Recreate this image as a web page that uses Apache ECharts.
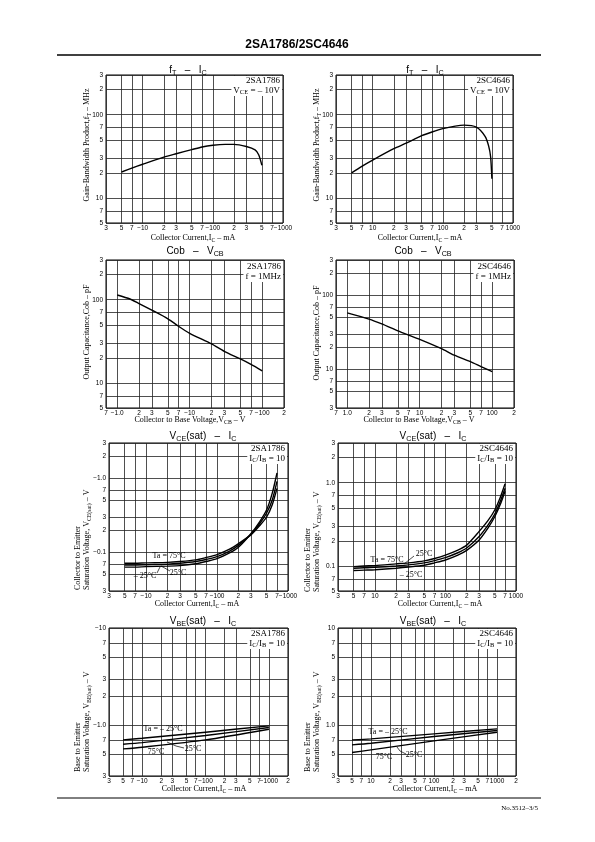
<!DOCTYPE html>
<html><head><meta charset="utf-8"><title>2SA1786/2SC4646</title>
<script src="https://cdn.jsdelivr.net/npm/echarts@6.0.0/dist/echarts.min.js"></script>
<style>html,body{margin:0;padding:0;background:#fff;}#chart{width:595px;height:842px;}</style>
</head><body><div id="chart"></div>
<script>
// ===== Tick values and tick labels =====
const icTicks = [3,5,7,10,20,30,50,70,100,200,300,500,700,1000];
const icLabelsA = ['3','5','7','−10','2','3','5','7','−100','2','3','5','7','−1000'];
const icLabelsC = ['3','5','7','10','2','3','5','7','100','2','3','5','7','1000'];
const icTicksWide = [3,5,7,10,20,30,50,70,100,200,300,500,700,1000,2000];
const icWideLabelsA = ['3','5','7','−10','2','3','5','7','−100','2','3','5','7','−1000','2'];
const icWideLabelsC = ['3','5','7','10','2','3','5','7','100','2','3','5','7','1000','2'];
const ftTicks = [5,7,10,20,30,50,70,100,200,300];
const ftLabels = ['5','7','10','2','3','5','7','100','2','3'];
const vcbTicks = [0.7,1,2,3,5,7,10,20,30,50,70,100,200];
const vcbLabelsA = ['7','−1.0','2','3','5','7','−10','2','3','5','7','−100','2'];
const vcbLabelsC = ['7','1.0','2','3','5','7','10','2','3','5','7','100','2'];
const cobTicksC = [3,5,7,10,20,30,50,70,100,200,300];
const cobLabelsC = ['3','5','7','10','2','3','5','7','100','2','3'];
const vceTicksA = [0.03,0.05,0.07,0.1,0.2,0.3,0.5,0.7,1,2,3];
const vceLabelsA = ['3','5','7','−0.1','2','3','5','7','−1.0','2','3'];
const vceTicksC = [0.05,0.07,0.1,0.2,0.3,0.5,0.7,1,2,3];
const vceLabelsC = ['5','7','0.1','2','3','5','7','1.0','2','3'];
const vbeTicks = [0.3,0.5,0.7,1,2,3,5,7,10];
const vbeLabelsA = ['3','5','7','−1.0','2','3','5','7','−10'];
const vbeLabelsC = ['3','5','7','1.0','2','3','5','7','10'];

// ===== Series data (magnitudes) =====
// fT - IC
const ftIcA = [5,7,10,20,30,50,70,100,150,200,300,400,450,500];
const ftA   = [20.5,22.8,25.4,31,34,38,41,43,44,44,41.5,37.8,33,24.7];
const ftIcC = [5,7,10,20,30,50,70,100,150,200,300,400,450,480,500];
const ftC   = [20,24,28.5,39,45.5,56,62,68,73,75,71,55,42,31,17];
// Cob - VCB
const cobVA = [1,1.5,2,3,5,7,10,20,30,50,70,100];
const cobA  = [114,102,90,75,59,48,39.5,29.5,24,19.4,16.7,14];
const cobVC = [1,2,3,5,7,10,20,30,50,70,100];
const cobC  = [58,47.7,41,33,29,25.4,19,15.5,12.7,10.9,9.3];
// VCE(sat) - IC
const vceIc    = [5,7,10,20,30,50,70,100,150,200,300,400,500,600,700];
const vceA_75  = [0.071,0.071,0.072,0.073,0.075,0.079,0.085,0.093,0.110,0.131,0.172,0.230,0.300,0.440,0.730];
const vceA_25  = [0.0675,0.0675,0.068,0.069,0.071,0.075,0.080,0.0875,0.104,0.124,0.175,0.245,0.340,0.510,0.910];
const vceA_m25 = [0.063,0.063,0.064,0.065,0.066,0.070,0.075,0.082,0.098,0.117,0.178,0.260,0.375,0.630,1.180];
const vceC_75  = [0.098,0.100,0.101,0.106,0.109,0.115,0.123,0.135,0.155,0.178,0.260,0.350,0.470,0.670,0.970];
const vceC_25  = [0.094,0.095,0.096,0.100,0.103,0.109,0.116,0.126,0.144,0.164,0.226,0.310,0.420,0.600,0.860];
const vceC_m25 = [0.088,0.089,0.090,0.094,0.097,0.102,0.109,0.118,0.135,0.154,0.205,0.285,0.390,0.550,0.790];
// VBE(sat) - IC
const vbeIc    = [5,10,100,1000];
const vbeA_m25 = [0.706,0.734,0.847,0.984];
const vbeA_25  = [0.637,0.662,0.782,0.946];
const vbeA_75  = [0.570,0.593,0.706,0.909];
const vbeC_m25 = [0.706,0.723,0.814,0.917];
const vbeC_25  = [0.627,0.652,0.764,0.881];
const vbeC_75  = [0.523,0.557,0.689,0.847];

// ===== Layout =====
const SERIF = '"Liberation Serif", "DejaVu Serif", serif';
const SANS = '"Liberation Sans", Arial, sans-serif';
const panels = [
  {box:[106,75,177,148], xT:icTicks, xL:icLabelsA, yT:ftTicks, yL:ftLabels, curves:[[ftIcA,ftA]]},
  {box:[336,75,177,148], xT:icTicks, xL:icLabelsC, yT:ftTicks, yL:ftLabels, curves:[[ftIcC,ftC]]},
  {box:[106,260,178,148], xT:vcbTicks, xL:vcbLabelsA, yT:ftTicks, yL:ftLabels, curves:[[cobVA,cobA]]},
  {box:[336,260,178,148], xT:vcbTicks, xL:vcbLabelsC, yT:cobTicksC, yL:cobLabelsC, curves:[[cobVC,cobC]]},
  {box:[109,443,179,148], xT:icTicks, xL:icLabelsA, yT:vceTicksA, yL:vceLabelsA, curves:[[vceIc,vceA_75],[vceIc,vceA_25],[vceIc,vceA_m25]]},
  {box:[338,443,178,148], xT:icTicks, xL:icLabelsC, yT:vceTicksC, yL:vceLabelsC, curves:[[vceIc,vceC_75],[vceIc,vceC_25],[vceIc,vceC_m25]]},
  {box:[109,628,179,148], xT:icTicksWide, xL:icWideLabelsA, yT:vbeTicks, yL:vbeLabelsA, curves:[[vbeIc,vbeA_m25],[vbeIc,vbeA_25],[vbeIc,vbeA_75]]},
  {box:[338,628,178,148], xT:icTicksWide, xL:icWideLabelsC, yT:vbeTicks, yL:vbeLabelsC, curves:[[vbeIc,vbeC_m25],[vbeIc,vbeC_25],[vbeIc,vbeC_75]]}
];

function labelFmt(vals, labels) {
  return function (v) {
    for (let k = 0; k < vals.length; k++) {
      if (Math.abs(Math.log10(v) - Math.log10(vals[k])) < 1e-6) return labels[k];
    }
    return '';
  };
}

const grids = [], xAxes = [], yAxes = [], series = [];
panels.forEach((p, i) => {
  grids.push({left:p.box[0], top:p.box[1], width:p.box[2], height:p.box[3], show:true,
    borderColor:'#000', borderWidth:1, backgroundColor:'transparent', containLabel:false, outerBoundsMode:'none'});
  const common = {type:'log', logBase:10, gridIndex:i,
    axisLine:{show:false}, minorTick:{show:false}, minorSplitLine:{show:false},
    splitLine:{show:true, lineStyle:{color:'#222', width:0.8}}};
  xAxes.push(Object.assign({}, common, {min:p.xT[0], max:p.xT[p.xT.length-1],
    axisTick:{show:false, customValues:p.xT},
    axisLabel:{customValues:p.xT, formatter:labelFmt(p.xT, p.xL), fontSize:6.5, margin:2, color:'#000', fontFamily:SANS, hideOverlap:false}}));
  yAxes.push(Object.assign({}, common, {min:p.yT[0], max:p.yT[p.yT.length-1],
    axisTick:{show:false, customValues:p.yT},
    axisLabel:{customValues:p.yT, formatter:labelFmt(p.yT, p.yL), fontSize:6.5, margin:3, color:'#000', fontFamily:SANS, hideOverlap:false}}));
  p.curves.forEach(c => {
    series.push({type:'line', xAxisIndex:i, yAxisIndex:i, data:c[0].map((x,k)=>[x, c[1][k]]),
      symbol:'none', showSymbol:false, smooth:0.25, silent:true,
      lineStyle:{color:'#000', width:1.4}});
  });
});

// ===== Text / annotations =====
function rich(sz, font) {
  return {s:{fontSize:Math.round(sz*0.72*10)/10, fontFamily:font, fill:'#000', verticalAlign:'bottom', lineHeight:Math.round(sz*0.55)}};
}
function T(x, y, text, o) {
  o = o || {};
  const sz = o.size || 8, font = o.font || SERIF;
  const st = {text:text, fill:'#000', fontSize:sz, fontFamily:font, fontWeight:o.weight || 'normal',
    align:o.align || 'center', verticalAlign:o.valign || 'middle', rich:rich(sz, font),
    lineHeight: o.lh || Math.round(sz*1.25)};
  if (o.bg) { st.backgroundColor = o.bg; st.padding = o.pad || [0,2,0,2]; }
  return {type:'text', x:x, y:y, rotation:o.rot || 0, silent:true, z:100, style:st};
}
function L(pts, w) {
  return {type:'polyline', silent:true, z:100, shape:{points:pts}, style:{stroke:'#000', lineWidth:w || 0.7, fill:null}};
}
const R90 = Math.PI / 2;
const graphics = [
  T(297, 45, '2SA1786/2SC4646', {size:12, font:SANS, weight:'bold'}),
  L([[57,55],[541,55]], 1.3),
  L([[57,798],[541,798]], 1),
  T(538, 808, 'No.3512–3/5', {size:7, align:'right'}),
  // titles
  T(188, 70, 'f{s|T}   –   I{s|C}', {size:10, font:SANS}),
  T(425, 70, 'f{s|T}   –   I{s|C}', {size:10, font:SANS}),
  T(195, 251, 'Cob   –   V{s|CB}', {size:10, font:SANS}),
  T(423, 251, 'Cob   –   V{s|CB}', {size:10, font:SANS}),
  T(203, 436, 'V{s|CE}(sat)   –   I{s|C}', {size:10, font:SANS}),
  T(433, 436, 'V{s|CE}(sat)   –   I{s|C}', {size:10, font:SANS}),
  T(203, 621, 'V{s|BE}(sat)   –   I{s|C}', {size:10, font:SANS}),
  T(433, 621, 'V{s|BE}(sat)   –   I{s|C}', {size:10, font:SANS}),
  // x axis names
  T(193, 238, 'Collector Current,I{s|C} – mA'),
  T(420, 238, 'Collector Current,I{s|C} – mA'),
  T(190, 420, 'Collector to Base Voltage,V{s|CB} – V'),
  T(419, 420, 'Collector to Base Voltage,V{s|CB} – V'),
  T(197, 604, 'Collector Current,I{s|C} – mA'),
  T(440, 604, 'Collector Current,I{s|C} – mA'),
  T(204, 789, 'Collector Current,I{s|C} – mA'),
  T(435, 789, 'Collector Current,I{s|C} – mA'),
  // y axis names
  T(87, 145, 'Gain-Bandwidth Product,f{s|T} – MHz', {rot:R90}),
  T(317, 145, 'Gain-Bandwidth Product,f{s|T} – MHz', {rot:R90}),
  T(87, 332, 'Output Capacitance,Cob – pF', {rot:R90}),
  T(317, 333, 'Output Capacitance,Cob – pF', {rot:R90}),
  T(78, 590, 'Collector to Emitter', {rot:R90, align:'left'}),
  T(87, 590, 'Saturation Voltage, V{s|CE(sat)} – V', {rot:R90, align:'left'}),
  T(308, 592, 'Collector to Emitter', {rot:R90, align:'left'}),
  T(317, 592, 'Saturation Voltage, V{s|CE(sat)} – V', {rot:R90, align:'left'}),
  T(78, 772, 'Base to Emitter', {rot:R90, align:'left'}),
  T(87, 772, 'Saturation Voltage, V{s|BE(sat)} – V', {rot:R90, align:'left'}),
  T(308, 772, 'Base to Emitter', {rot:R90, align:'left'}),
  T(317, 772, 'Saturation Voltage, V{s|BE(sat)} – V', {rot:R90, align:'left'}),
  // info boxes
  T(282, 76, '2SA1786\nV{s|CE} = – 10V', {size:9, align:'right', valign:'top', lh:10, bg:'#fff'}),
  T(512, 76, '2SC4646\nV{s|CE} = 10V', {size:9, align:'right', valign:'top', lh:10, bg:'#fff'}),
  T(283, 261, '2SA1786\nf = 1MHz', {size:9, align:'right', valign:'top', lh:10.5, bg:'#fff'}),
  T(513, 261, '2SC4646\nf = 1MHz', {size:9, align:'right', valign:'top', lh:10.5, bg:'#fff'}),
  T(287, 444, '2SA1786\nI{s|C}/I{s|B} = 10', {size:9, align:'right', valign:'top', lh:10, bg:'#fff'}),
  T(515, 444, '2SC4646\nI{s|C}/I{s|B} = 10', {size:9, align:'right', valign:'top', lh:10, bg:'#fff'}),
  T(287, 629, '2SA1786\nI{s|C}/I{s|B} = 10', {size:9, align:'right', valign:'top', lh:10, bg:'#fff'}),
  T(515, 629, '2SC4646\nI{s|C}/I{s|B} = 10', {size:9, align:'right', valign:'top', lh:10, bg:'#fff'}),
  // temperature labels
  T(169, 556, 'Ta = 75°C'), T(145, 576, '– 25°C'), T(178, 573, '25°C'),
  L([[157,573],[160,567]]), L([[170,571],[161,566]]),
  T(387, 560, 'Ta = 75°C'), T(424, 554, '25°C'), T(411, 575, '– 25°C'),
  L([[414,556],[404,564]]),
  T(163, 729, 'Ta = – 25°C'), T(193, 749, '25°C'), T(156, 752, '75°C'),
  L([[184,748],[176,746],[167,742]]),
  T(388, 732, 'Ta = – 25°C'), T(414, 755, '25°C'), T(384, 757, '75°C'),
  L([[406,754],[400,751],[397,747]])
];

const chart = echarts.init(document.getElementById('chart'), null, {renderer:'canvas'});
chart.setOption({
  animation:false,
  backgroundColor:'#fff',
  grid:grids, xAxis:xAxes, yAxis:yAxes, series:series,
  graphic:graphics
});
</script></body></html>
